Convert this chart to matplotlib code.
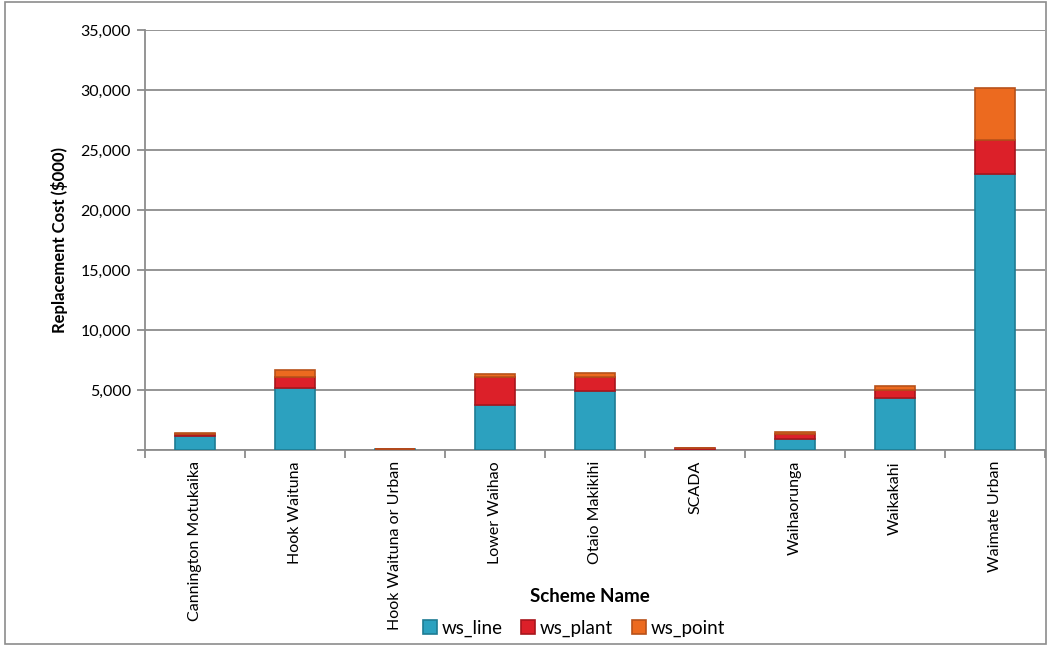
import matplotlib
matplotlib.use("Agg")
import matplotlib.pyplot as plt
from matplotlib.patches import Rectangle
from matplotlib.ticker import FuncFormatter, MultipleLocator

plt.rcParams['font.family'] = ['Lato', 'DejaVu Sans']

schemes = ["Cannington Motukaika", "Hook Waituna", "Hook Waituna or Urban",
           "Lower Waihao", "Otaio Makikihi", "SCADA", "Waihaorunga",
           "Waikakahi", "Waimate Urban"]
ws_line = [1200, 5150, 80, 3750, 4900, 0, 900, 4350, 23000]
ws_plant = [150, 950, 0, 2300, 1150, 180, 430, 650, 2850]
ws_point = [100, 550, 0, 300, 350, 0, 180, 350, 4300]

series = [("ws_line", ws_line, "#2CA1BF", "#1E7C93"),
          ("ws_plant", ws_plant, "#DC2029", "#A8161D"),
          ("ws_point", ws_point, "#EC6A1F", "#B8511A")]

fig = plt.figure(figsize=(10.49, 6.46), dpi=100)
ax = fig.add_axes([145/1049, 1-450/646, 900/1049, 420/646])

x = list(range(len(schemes)))
bottom = [0]*len(schemes)
handles = []
for name, vals, fc, ec in series:
    bars = ax.bar(x, vals, width=0.4, bottom=bottom, color=fc, edgecolor=ec,
                  linewidth=1.2, label=name, zorder=3)
    handles.append(bars)
    bottom = [b + v for b, v in zip(bottom, vals)]

grid_c = "#8C8C8C"
ax.set_xlim(-0.5, len(schemes)-0.5)
ax.set_ylim(0, 35000)
ax.yaxis.set_major_locator(MultipleLocator(5000))
ax.yaxis.set_major_formatter(FuncFormatter(lambda v, p: "" if v == 0 else f"{int(v):,}"))
ax.grid(axis='y', color=grid_c, linewidth=1.3, zorder=0)
ax.set_axisbelow(True)

for s in ['top', 'right']:
    ax.spines[s].set_visible(False)
for s in ['left', 'bottom']:
    ax.spines[s].set_color(grid_c)
    ax.spines[s].set_linewidth(1.3)

ax.set_xticks([i - 0.5 for i in range(len(schemes)+1)])
ax.set_xticklabels([])
ax.set_xticks(x, minor=True)
ax.set_xticklabels(schemes, minor=True, rotation=90, fontsize=11.5, va='top', ha='center')
ax.tick_params(axis='x', which='major', length=6, color=grid_c, width=1.3, direction='out')
ax.tick_params(axis='x', which='minor', length=0, pad=8)
ax.tick_params(axis='y', length=6, color=grid_c, width=1.3, labelsize=11.5, pad=4)

ax.set_ylabel("Replacement Cost (\\$000)", fontsize=12, fontweight='bold', labelpad=9)
fig.text(590/1049, 1-597/646, "Scheme Name", fontsize=13.5, fontweight='bold',
         ha='center', va='center')

leg = fig.legend(handles=handles, labels=[s[0] for s in series], loc='center',
                 bbox_to_anchor=(574/1049, 1-628/646), ncol=3, frameon=False,
                 fontsize=13.5, handlelength=0.75, handleheight=0.75, handletextpad=0.25,
                 columnspacing=1.0)

fig.patches.append(Rectangle((5/1049, 2/646), 1041/1049, 642/646, transform=fig.transFigure,
                             fill=False, edgecolor="#8C8C8C", linewidth=1.2))

fig.savefig("out.png", dpi=100)
